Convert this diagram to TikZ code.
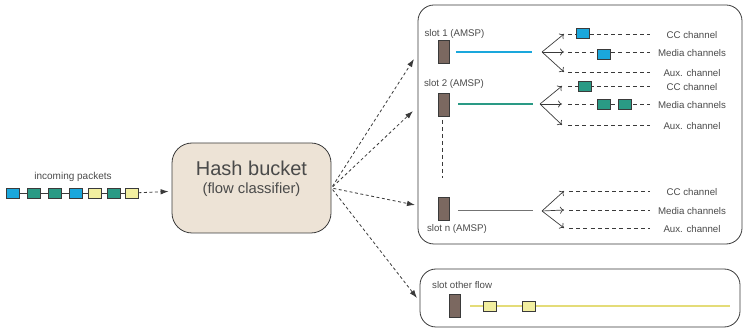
\documentclass[tikz,border=0pt]{standalone}
\usepackage{fontspec}
\setmainfont{Liberation Sans}
\usetikzlibrary{arrows.meta}

\definecolor{pktblue}{HTML}{1AA7DC}
\definecolor{pktteal}{HTML}{2A9A85}
\definecolor{pktyellow}{HTML}{F2EFA0}
\definecolor{flowyellow}{HTML}{E4DC78}
\definecolor{slotbrown}{HTML}{7B6860}
\definecolor{hashfill}{HTML}{EDE3D6}
\definecolor{ink}{HTML}{3A3A3A}
\definecolor{txt}{HTML}{4A4A4A}

\tikzset{
  pkt/.style={draw=ink, line width=0.7pt, minimum width=13pt, minimum height=10pt, inner sep=0pt},
  slotbox/.style={draw=ink, line width=0.7pt, fill=slotbrown, minimum width=11pt, minimum height=23pt, inner sep=0pt},
  group/.style={draw=ink, line width=0.8pt, rounded corners=16pt},
  flowarrow/.style={draw=ink, line width=0.8pt, dash pattern=on 3pt off 2.5pt, -{Latex[length=8pt,width=5.5pt]}},
  chan/.style={draw=ink, line width=0.8pt, dash pattern=on 4pt off 3.2pt},
  fork/.style={draw=ink, line width=0.7pt, -{To[length=4pt,width=7pt]}},
  lbl/.style={font=\fontsize{9.7}{11}\selectfont, text=txt, inner sep=0pt},
}

\begin{document}
\begin{tikzpicture}[x=1pt,y=-1pt]
  \useasboundingbox (0,0) rectangle (744,328);

  % incoming packet stream
  \node[lbl, font=\fontsize{10}{11}\selectfont] (inlbl) at (73,177) {incoming packets};
  \foreach \i/\x/\c in {1/13/pktblue, 2/33.5/pktteal, 3/54.5/pktteal, 4/75.5/pktblue,
                        5/95/pktyellow, 6/113.5/pktteal, 7/131.5/pktyellow}
    \node[pkt, fill=\c] (p\i) at (\x,193) {};
  \foreach \a/\b in {1/2,2/3,3/4,4/5,5/6,6/7}
    \draw[ink, line width=0.7pt] (p\a) -- (p\b);

  % classifier
  \node[draw=ink, line width=0.8pt, fill=hashfill, rounded corners=20pt,
        minimum width=159pt, minimum height=90pt] (hb) at (251.5,188) {};
  \node[font=\fontsize{20}{22}\selectfont, text=txt] (hbtitle) at ([yshift=20pt]hb.center) {Hash bucket};
  \node[font=\fontsize{14.8}{16}\selectfont, text=txt] (hbsub) at ([yshift=-2pt]hb.center) {(flow classifier)};
  \draw[flowarrow, shorten >=3pt] (p7) -- (hb);

  % slot groups
  \draw[group] (418,5) rectangle (742,244);
  \draw[group] (420,269) rectangle (740,327);

  \coordinate (in1) at (414,59);
  \coordinate (in2) at (413,111);
  \coordinate (in3) at (415,205);
  \coordinate (in4) at (417,298);
  \foreach \t in {in1,in2,in3,in4}
    \draw[flowarrow, shorten <=2pt] (hb.east) -- (\t);

  % slot 1
  \node[lbl] (s1lbl) at (454.5,34) {slot 1 (AMSP)};
  \node[slotbox] (s1) at (443.5,52) {};
  \coordinate (f1) at (542,52);
  \draw[pktblue, line width=2.5pt] ([xshift=7pt]s1.east |- f1) -- ([xshift=-10pt]f1);
  \foreach \y/\name in {34/CC channel, 52/Media channels, 72/Aux. channel}{
    \draw[fork] (f1) -- (564,\y);
    \draw[chan] (568,\y) -- (650,\y);
    \node[lbl] at (692,\y+1) {\name};
  }
  \node[pkt, fill=pktblue] (s1cc) at (583,33.5) {};
  \node[pkt, fill=pktblue] (s1m) at (603.5,54.5) {};

  % slot 2
  \node[lbl] (s2lbl) at (454,84) {slot 2 (AMSP)};
  \node[slotbox] (s2) at (443.5,105) {};
  \coordinate (f2) at (540,104);
  \draw[pktteal, line width=2.5pt] ([xshift=9pt]s2.east |- f2) -- ([xshift=-7pt]f2);
  \foreach \y/\name in {86/CC channel, 104/Media channels, 125/Aux. channel}{
    \draw[fork] (f2) -- (562,\y);
    \draw[chan] (568,\y) -- (650,\y);
    \node[lbl] at (692,\y+1) {\name};
  }
  \node[pkt, fill=pktteal] (s2cc) at (585,86) {};
  \node[pkt, fill=pktteal] (s2m1) at (604,104.5) {};
  \node[pkt, fill=pktteal] (s2m2) at (624.5,104.5) {};

  \draw[ink, line width=0.8pt, dash pattern=on 4pt off 3pt] (442,120) -- (442,178);

  % slot n
  \node[slotbox] (sn) at (444,208.5) {};
  \node[lbl] (snlbl) at (457,229) {slot n (AMSP)};
  \coordinate (fn) at (542,211);
  \draw[black!55, line width=1pt] ([xshift=8pt]sn.east |- fn) -- ([xshift=-9pt]fn);
  \foreach \y/\name in {191/CC channel, 210/Media channels, 228/Aux. channel}{
    \draw[fork] (fn) -- (564,\y);
    \draw[chan] (569,\y) -- (650,\y);
    \node[lbl] at (692,\y+1) {\name};
  }

  % other flows
  \node[lbl, anchor=west] (solbl) at (432,285) {slot other flow};
  \node[slotbox] (so) at (454.5,305.5) {};
  \coordinate (soend) at (730,306);
  \draw[flowyellow, line width=2.5pt] ([xshift=10pt]so.east |- soend) -- (soend);
  \node[pkt, fill=pktyellow] (so1) at (490,306.5) {};
  \node[pkt, fill=pktyellow] (so2) at (529,306.5) {};
\end{tikzpicture}
\end{document}
